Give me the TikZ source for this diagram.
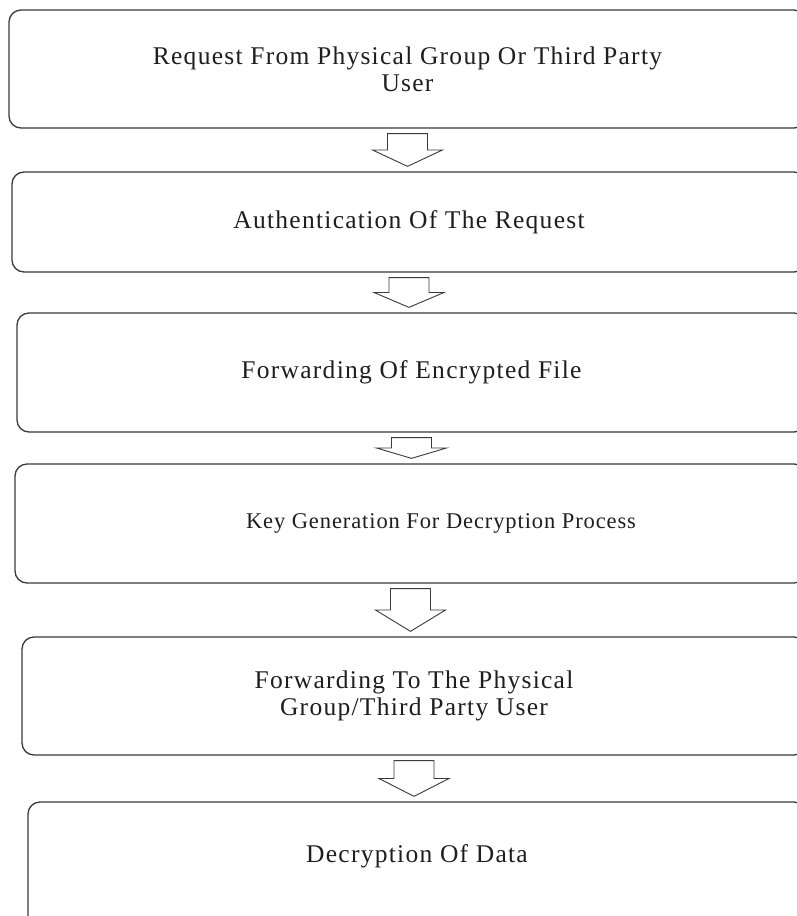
\documentclass[tikz,border=0pt]{standalone}
\usepackage{fontspec}
\setmainfont{Liberation Serif}[LetterSpace=5]
\usetikzlibrary{calc}
\definecolor{edgegray}{HTML}{3A3A3A}
\definecolor{textgray}{HTML}{1E1E1E}
\tikzset{
  stage/.style={draw=edgegray, line width=1.3pt, rounded corners=12pt, align=center,
    inner sep=0pt, text=textgray, font=\fontsize{25.5}{27}\selectfont},
  blockarrow/.style={draw=edgegray, line width=0.9pt, fill=white}
}
% hollow block arrow from one stage down to the next
\newcommand{\flowarrow}[2]{%
  \draw[blockarrow] let \p1=(#1.south), \p2=(#2.north), \n1={\y1-5pt}, \n2={\y2+5pt}, \n3={(\n1+\n2)/2} in
    (\x1-20pt,\n1) -- (\x1+20pt,\n1) -- (\x1+20pt,\n3) -- (\x1+35pt,\n3) -- (\x1,\n2)
    -- (\x1-35pt,\n3) -- (\x1-20pt,\n3) -- cycle;}

\begin{document}
\begin{tikzpicture}[x=1pt,y=-1pt]
                \useasboundingbox (0,0) rectangle (796,916);

                \node[stage, minimum width=797pt, minimum height=118pt] (request) at (407.5,69) {Request From Physical Group Or Third Party\\User};
                \node[stage, minimum width=794pt, minimum height=100pt] (auth) at (409,222) {Authentication Of The Request};
                \node[stage, minimum width=789pt, minimum height=119pt] (forward) at (411.5,372.5) {Forwarding Of Encrypted File};
                \node[stage, minimum width=791pt, minimum height=119pt, font=\addfontfeature{LetterSpace=4}\fontsize{22.5}{27}\selectfont] (keygen) at (410.5,523.5) {\hspace*{61pt}Key Generation For Decryption Process};
                \node[stage, minimum width=784pt, minimum height=118pt] (deliver) at (414,696) {Forwarding To The Physical\\Group/Third Party User};
                \node[stage, minimum width=778pt, minimum height=128pt, text depth=24pt] (decrypt) at (417,866) {Decryption Of Data};

                \flowarrow{request}{auth}
                \flowarrow{auth}{forward}
                \flowarrow{forward}{keygen}
                \flowarrow{keygen}{deliver}
                \flowarrow{deliver}{decrypt}
            \end{tikzpicture}
\end{document}
